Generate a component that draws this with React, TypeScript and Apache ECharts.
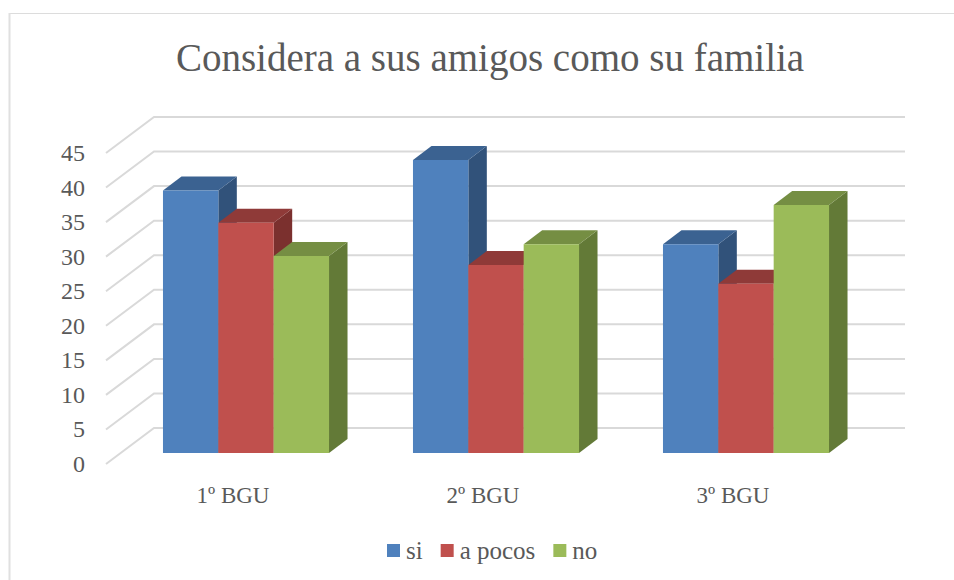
import React, { useEffect, useRef } from "react";
import * as echarts from "echarts";

const categories = ["1º BGU", "2º BGU", "3º BGU"];
const seriesNames = ["si", "a pocos", "no"];
const siValues = [38, 42.4, 30.2];
const aPocosValues = [33.3, 27.2, 24.5];
const noValues = [28.5, 30.2, 35.9];
const allValues = [siValues, aPocosValues, noValues];
const faceColors = ["#4f81bd", "#c0504d", "#9bbb59"];
const topColors = ["#3b6291", "#8f3a38", "#758e43"];
const sideColors = ["#31527a", "#7b302e", "#637a37"];
const ticks = [0, 5, 10, 15, 20, 25, 30, 35, 40, 45];
const FONT = "'Liberation Serif', serif";

export default function App() {
  const ref = useRef<HTMLDivElement>(null);
  useEffect(() => {
    const chart = echarts.init(ref.current!, null, { renderer: "svg" });
    const wallDx = 48, wallDy = 36;
    const planeDx = 15, planeDy = 11;
    const depthDx = 18.5, depthDy = 14;
    const barSeries = seriesNames.map((name, si) => ({
      type: "custom",
      name,
      itemStyle: { color: faceColors[si] },
      z: 3,
      encode: { x: 0, y: 1 },
      data: allValues[si].map((v, i) => [i, v]),
      renderItem: (_: any, api: any) => {
        const cat = api.value(0), val = api.value(1);
        const base = api.coord([cat, 0]);
        const top = api.coord([cat, val]);
        const bw = api.size([1, 0])[0] * 0.2214;
        const x0 = base[0] + planeDx + (si - 1.5) * bw;
        const x1 = x0 + bw;
        const yb = base[1] - planeDy;
        const yt = top[1] - planeDy;
        return {
          type: "group",
          children: [
            { type: "polygon", shape: { points: [[x1, yt], [x1 + depthDx, yt - depthDy], [x1 + depthDx, yb - depthDy], [x1, yb]] }, style: { fill: sideColors[si] } },
            { type: "polygon", shape: { points: [[x0, yt], [x0 + depthDx, yt - depthDy], [x1 + depthDx, yt - depthDy], [x1, yt]] }, style: { fill: topColors[si] } },
            { type: "rect", shape: { x: x0, y: yt, width: bw, height: yb - yt }, style: { fill: faceColors[si] } },
          ],
        };
      },
    }));
    const gridSeries = {
      type: "custom",
      silent: true,
      z: 1,
      encode: { y: 0 },
      data: ticks.map((t) => [t]),
      renderItem: (params: any, api: any) => {
        const cs = params.coordSys;
        const y = api.coord([0, api.value(0)])[1];
        const x = cs.x;
        return {
          type: "polyline",
          shape: { points: [[x, y], [x + wallDx, y - wallDy], [x + cs.width + wallDx + 1, y - wallDy]] },
          style: { fill: "none", stroke: "#d9d9d9", lineWidth: 2 },
        };
      },
    };
    chart.setOption({
      animation: false,
      backgroundColor: "#ffffff",
      title: {
        text: "Considera a sus amigos como su familia",
        left: 485,
        top: 33,
        textAlign: "center",
        textStyle: { fontFamily: FONT, fontSize: 39, fontWeight: "normal", color: "#595959" },
      },
      legend: {
        data: seriesNames,
        left: 382,
        top: 533,
        icon: "rect",
        itemWidth: 13,
        itemHeight: 13,
        itemGap: 18,
        textStyle: { fontFamily: FONT, fontSize: 25, color: "#595959", padding: [0, 0, 0, 1] },
      },
      grid: { left: 106, right: 954 - 856, top: 153, bottom: 580 - 464 },
      xAxis: {
        type: "category",
        data: categories,
        axisLine: { show: false },
        axisTick: { show: false },
        axisLabel: { fontFamily: FONT, fontSize: 23, color: "#595959", margin: 20, padding: [0, 0, 0, 4] },
      },
      yAxis: {
        type: "value",
        min: 0,
        max: 45,
        interval: 5,
        axisLine: { show: false },
        axisTick: { show: false },
        splitLine: { show: false },
        axisLabel: { fontFamily: FONT, fontSize: 24, color: "#595959", margin: 21, padding: [0, 0, 10, 0] },
      },
      graphic: [
        { type: "line", shape: { x1: 9, y1: 13.5, x2: 954, y2: 13.5 }, style: { stroke: "#dcdcdc", lineWidth: 1 } },
        { type: "line", shape: { x1: 9.5, y1: 13, x2: 9.5, y2: 580 }, style: { stroke: "#e0e0e0", lineWidth: 2 } },
      ],
      series: [gridSeries, ...barSeries],
    });
    return () => chart.dispose();
  }, []);
  return <div ref={ref} style={{ position: "absolute", left: 0, top: 0, width: 954, height: 580 }} />;
}
